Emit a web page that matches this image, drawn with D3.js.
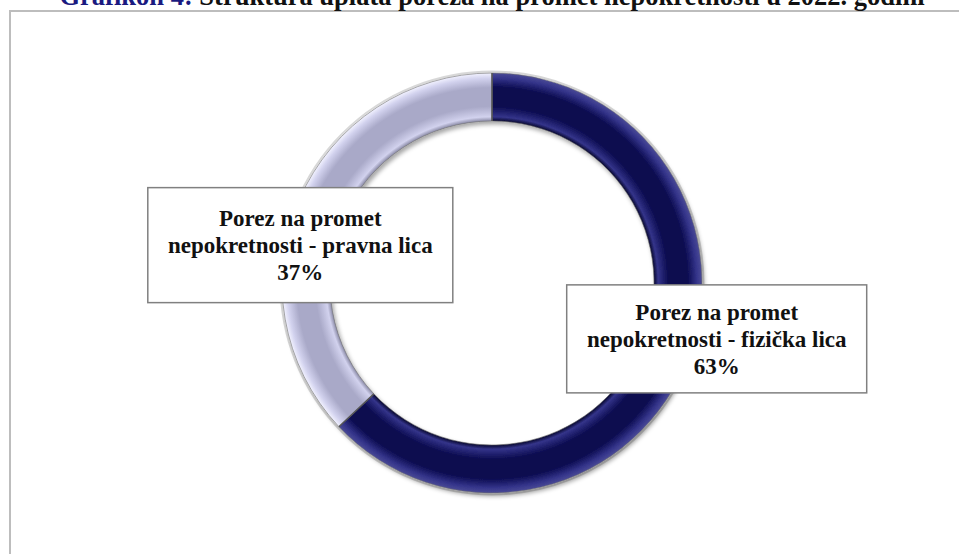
<!DOCTYPE html>
<html>
<head>
<meta charset="utf-8">
<script src="https://cdn.jsdelivr.net/npm/d3@7"></script>
<style>
  html, body { margin: 0; padding: 0; background: #fff; }
  svg { display: block; font-family: "Liberation Serif", "Times New Roman", serif; }
</style>
</head>
<body>
<svg width="959" height="554"></svg>
<script>
// data
var categories = ['fizička lica', 'pravna lica'];
var values = [63, 37];
var labelLines = [
    ['Porez na promet', 'nepokretnosti - fizička lica', '63%'],
    ['Porez na promet', 'nepokretnosti - pravna lica', '37%']
];
var titleLead = 'Grafikon 4:';
var titleRest = ' Struktura uplata poreza na promet nepokretnosti u 2022. godini';

// layout
var cx = 492, cy = 283;
var outerR = 210, innerR = 162;
var colors = ['#0b0b4f', '#a9a9c8'];
var edgeColors = ['#34348a', '#d2d2ee'];
var shadeColors = ['#07072e', '#8a8aa6'];
var rimColors = ['#4a4a96', '#f2f2ff'];
// label boxes: offset of box centre from the arc centroid, and box size
var boxes = [
    { dx: 54, dy: -18, w: 300, h: 108 },
    { dx: -21, dy: 36, w: 305, h: 115 }
];

var svg = d3.select('svg');
var defs = svg.append('defs');

var shadow = defs.append('filter').attr('id', 'shadow')
    .attr('x', '-10%').attr('y', '-10%').attr('width', '120%').attr('height', '120%');
shadow.append('feDropShadow')
    .attr('dx', 2).attr('dy', 3).attr('stdDeviation', 2)
    .attr('flood-color', '#000').attr('flood-opacity', 0.35);

// bevel look across the ring width (centre of the ring group is 0,0)
values.forEach(function (v, i) {
    var g = defs.append('radialGradient').attr('id', 'bevel' + i)
        .attr('gradientUnits', 'userSpaceOnUse')
        .attr('cx', 0).attr('cy', 0).attr('r', outerR);
    var k = innerR / outerR;
    g.append('stop').attr('offset', k).attr('stop-color', shadeColors[i]);
    g.append('stop').attr('offset', k + 0.02).attr('stop-color', edgeColors[i]);
    g.append('stop').attr('offset', k + 0.07).attr('stop-color', colors[i]);
    g.append('stop').attr('offset', 0.93).attr('stop-color', colors[i]);
    g.append('stop').attr('offset', 0.975).attr('stop-color', edgeColors[i]);
    g.append('stop').attr('offset', 1).attr('stop-color', rimColors[i]);
});

// plot area border
svg.append('rect')
    .attr('x', 10).attr('y', 11)
    .attr('width', 1000).attr('height', 600)
    .attr('fill', 'none')
    .attr('stroke', '#bdbdbd')
    .attr('stroke-width', 2);

// title (cut at the top, as in the source)
var title = svg.append('text')
    .attr('x', 492).attr('y', 5)
    .attr('text-anchor', 'middle')
    .attr('font-size', 26.5)
    .attr('font-weight', 'bold');
title.append('tspan').attr('fill', '#1a1a80').text(titleLead);
title.append('tspan').attr('fill', '#111').text(titleRest);

var pie = d3.pie().sort(null).value(function (d) { return d; });
var arc = d3.arc().innerRadius(innerR).outerRadius(outerR);
var arcs = pie(values);

var ring = svg.append('g').attr('transform', 'translate(' + cx + ',' + cy + ')');

// light outer rim
ring.append('circle')
    .attr('r', outerR + 1.5)
    .attr('fill', 'none')
    .attr('stroke', '#d9d9d9')
    .attr('stroke-width', 2);

ring.append('g')
    .attr('filter', 'url(#shadow)')
    .selectAll('path')
    .data(arcs)
    .enter()
    .append('path')
    .attr('d', arc)
    .attr('fill', function (d, i) { return 'url(#bevel' + i + ')'; })
    .attr('stroke', '#6e6e6e')
    .attr('stroke-width', 0.6);

// split lines
ring.selectAll('line.split')
    .data(arcs)
    .enter()
    .append('line')
    .attr('class', 'split')
    .attr('x1', function (d) { return innerR * Math.sin(d.startAngle); })
    .attr('y1', function (d) { return -innerR * Math.cos(d.startAngle); })
    .attr('x2', function (d) { return outerR * Math.sin(d.startAngle); })
    .attr('y2', function (d) { return -outerR * Math.cos(d.startAngle); })
    .attr('stroke', '#555')
    .attr('stroke-width', 1.5);

// labels
var labels = ring.selectAll('g.label')
    .data(arcs)
    .enter()
    .append('g')
    .attr('class', 'label')
    .attr('transform', function (d, i) {
        var c = arc.centroid(d);
        return 'translate(' + (c[0] + boxes[i].dx) + ',' + (c[1] + boxes[i].dy) + ')';
    });

labels.append('rect')
    .attr('x', function (d, i) { return -boxes[i].w / 2; })
    .attr('y', function (d, i) { return -boxes[i].h / 2; })
    .attr('width', function (d, i) { return boxes[i].w; })
    .attr('height', function (d, i) { return boxes[i].h; })
    .attr('fill', '#fff')
    .attr('stroke', '#808080')
    .attr('stroke-width', 1.5);

labels.each(function (d, i) {
    var t = d3.select(this).append('text')
        .attr('text-anchor', 'middle')
        .attr('font-size', 23)
        .attr('font-weight', 'bold')
        .attr('fill', '#111');
    labelLines[i].forEach(function (line, j) {
        t.append('tspan').attr('x', 0).attr('y', -19 + j * 27).text(line);
    });
});
</script>
</body>
</html>
